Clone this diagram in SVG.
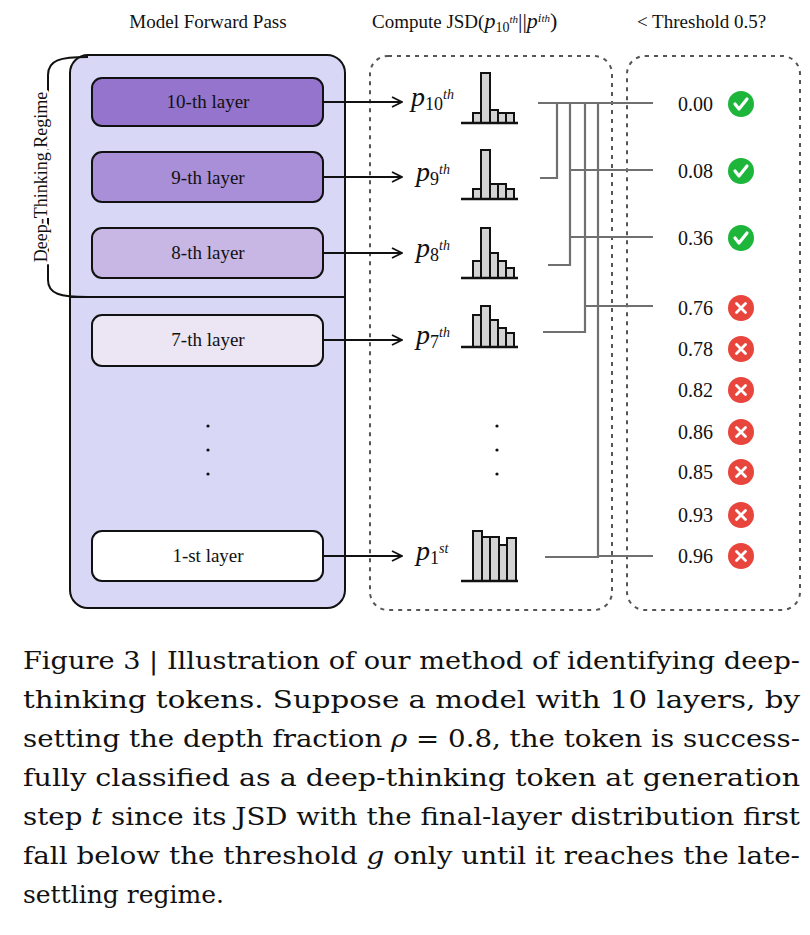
<svg xmlns="http://www.w3.org/2000/svg" width="810" height="935" viewBox="0 0 810 935">
<style>
text{font-family:"Liberation Serif",serif;fill:#111}
.h{font-size:19px}
.lay{font-size:19px;text-anchor:middle}
.p{font-size:28px;font-style:italic}
.s{font-size:14px;font-style:italic}
.sn{font-size:18px;font-style:normal}
.v{font-size:20px}
.cap{font-size:25px;font-family:"DejaVu Serif",serif}
.layer{stroke:#111;stroke-width:2}
.bar{fill:#d3d3d3;stroke:#111;stroke-width:2}
.base{stroke:#111;stroke-width:2.5}
.con{stroke:#707070;stroke-width:2.2;fill:none}
.dash{fill:none;stroke:#555;stroke-width:2;stroke-dasharray:4 5}
.arr{stroke:#111;stroke-width:2;fill:none;marker-end:url(#ah)}
</style>
<defs>
<marker id="ah" markerWidth="12" markerHeight="12" refX="11" refY="6" orient="auto" markerUnits="userSpaceOnUse"><path d="M1,1 L11,6 L1,11" fill="none" stroke="#111" stroke-width="1.8"/></marker>
<g id="ok"><circle r="13" fill="#1db53a"/><path d="M-6,0 L-2,5 L6,-5" fill="none" stroke="#fff" stroke-width="3.2" stroke-linecap="round" stroke-linejoin="round"/></g>
<g id="no"><circle r="13" fill="#e8453c"/><path d="M-4.5,-4.5 L4.5,4.5 M4.5,-4.5 L-4.5,4.5" stroke="#fff" stroke-width="2.8" stroke-linecap="round"/></g>
</defs>
<rect width="810" height="935" fill="#fff"/>
<text class="h" x="208" y="28" text-anchor="middle">Model Forward Pass</text>
<text class="h" x="372" y="28">Compute JSD(<tspan font-style="italic" font-size="22">p</tspan><tspan font-size="14" dy="4">10</tspan><tspan font-size="11" dy="-9" font-style="italic">th</tspan><tspan dy="5" font-size="22">||</tspan><tspan font-style="italic" font-size="22">p</tspan><tspan font-size="13" font-style="italic" dy="-6">i</tspan><tspan font-size="11" font-style="italic">th</tspan><tspan dy="6" font-size="22">)</tspan></text>
<text class="h" x="637" y="28">&lt; Threshold 0.5?</text>
<g id="model">
<rect x="70" y="55" width="275" height="553" rx="18" fill="#d8d8f6" stroke="#111" stroke-width="2"/>
<line x1="70" y1="297" x2="345" y2="297" stroke="#111" stroke-width="2"/>
<path d="M88,57 C60,57 48,60 48,75 L48,280 C48,294 60,297 88,297" fill="none" stroke="#111" stroke-width="2"/>
<text x="0" y="0" font-size="18" text-anchor="middle" transform="translate(47,177) rotate(-90)" stroke="#fff" stroke-width="5" paint-order="stroke">Deep-Thinking Regime</text>
</g>
<g id="l10"><rect class="layer" x="92" y="78" width="231" height="48" rx="10" fill="#9474cc"/><text class="lay" x="208" y="108">10-th layer</text></g>
<g id="l9"><rect class="layer" x="92" y="152" width="231" height="50" rx="10" fill="#a98ed8"/><text class="lay" x="208" y="184">9-th layer</text></g>
<g id="l8"><rect class="layer" x="92" y="228" width="231" height="50" rx="10" fill="#c8b7e5"/><text class="lay" x="208" y="259">8-th layer</text></g>
<g id="l7"><rect class="layer" x="92" y="315" width="231" height="51" rx="10" fill="#ebe5f4"/><text class="lay" x="208" y="346">7-th layer</text></g>
<g id="l1"><rect class="layer" x="92" y="531" width="231" height="50" rx="10" fill="#fff"/><text class="lay" x="208" y="562">1-st layer</text></g>
<g fill="#111"><circle cx="208" cy="426" r="1.6"/><circle cx="208" cy="450" r="1.6"/><circle cx="208" cy="474" r="1.6"/><circle cx="497" cy="426" r="1.6"/><circle cx="497" cy="450" r="1.6"/><circle cx="497" cy="474" r="1.6"/></g>
<rect class="dash" x="370" y="56" width="242" height="554" rx="18"/>
<rect class="dash" x="627" y="56" width="173" height="554" rx="18"/>
<g id="connectors">
<line class="arr" x1="323" y1="102" x2="402" y2="102"/>
<line class="arr" x1="323" y1="177" x2="402" y2="177"/>
<line class="arr" x1="323" y1="253" x2="402" y2="253"/>
<line class="arr" x1="323" y1="340" x2="402" y2="340"/>
<line class="arr" x1="323" y1="556" x2="402" y2="556"/>
<path class="con" d="M538,103 H653 M540,178 H557 V103 M548,265 H570 V103 M543,332 H585 V103 M545,557 H598 V103 M570,170 H653 M570,237 H653 M585,306 H653 M598,556 H653"/>
</g>
<g id="dists">
<text class="p" x="411" y="106">p<tspan class="sn" dy="4">10</tspan><tspan class="s" dy="-11">th</tspan></text>
<text class="p" x="416" y="181">p<tspan class="sn" dy="4">9</tspan><tspan class="s" dy="-11">th</tspan></text>
<text class="p" x="416" y="257">p<tspan class="sn" dy="4">8</tspan><tspan class="s" dy="-11">th</tspan></text>
<text class="p" x="416" y="344">p<tspan class="sn" dy="4">7</tspan><tspan class="s" dy="-11">th</tspan></text>
<text class="p" x="416" y="560">p<tspan class="sn" dy="4">1</tspan><tspan class="s" dy="-11">st</tspan></text>
<g class="bar">
<rect x="473" y="113" width="8" height="10"/><rect x="481" y="73" width="9" height="50"/><rect x="490" y="110" width="8" height="13"/><rect x="498" y="113" width="8" height="10"/><rect x="506" y="113" width="8" height="10"/>
<rect x="473" y="189" width="8" height="10"/><rect x="481" y="150" width="9" height="49"/><rect x="490" y="184" width="8" height="15"/><rect x="498" y="184" width="8" height="15"/><rect x="506" y="189" width="8" height="10"/>
<rect x="473" y="261" width="8" height="17"/><rect x="481" y="228" width="9" height="50"/><rect x="490" y="253" width="8" height="25"/><rect x="498" y="261" width="8" height="17"/><rect x="506" y="268" width="8" height="10"/>
<rect x="473" y="315" width="8" height="32"/><rect x="481" y="306" width="9" height="41"/><rect x="490" y="320" width="8" height="27"/><rect x="498" y="328" width="8" height="19"/><rect x="506" y="333" width="8" height="14"/>
<rect x="473" y="531" width="9" height="50"/><rect x="482" y="537" width="8" height="44"/><rect x="490" y="537" width="9" height="44"/><rect x="499" y="545" width="8" height="36"/><rect x="507" y="538" width="9" height="43"/>
</g>
<g class="base"><line x1="461" y1="123" x2="518" y2="123"/><line x1="461" y1="199" x2="518" y2="199"/><line x1="461" y1="278" x2="518" y2="278"/><line x1="461" y1="347" x2="518" y2="347"/><line x1="461" y1="581" x2="518" y2="581"/></g>
</g>
<g id="scores">
<text class="v" x="678" y="111">0.00</text><use href="#ok" x="741" y="104"/>
<text class="v" x="678" y="178">0.08</text><use href="#ok" x="741" y="171"/>
<text class="v" x="678" y="245">0.36</text><use href="#ok" x="741" y="238"/>
<text class="v" x="678" y="315">0.76</text><use href="#no" x="741" y="308"/>
<text class="v" x="678" y="356">0.78</text><use href="#no" x="741" y="349"/>
<text class="v" x="678" y="397">0.82</text><use href="#no" x="741" y="390"/>
<text class="v" x="678" y="439">0.86</text><use href="#no" x="741" y="432"/>
<text class="v" x="678" y="479">0.85</text><use href="#no" x="741" y="472"/>
<text class="v" x="678" y="522">0.93</text><use href="#no" x="741" y="515"/>
<text class="v" x="678" y="563">0.96</text><use href="#no" x="741" y="556"/>
</g>
<g id="caption">
<text class="cap" x="23" y="669" textLength="777" lengthAdjust="spacingAndGlyphs">Figure 3 | Illustration of our method of identifying deep-</text>
<text class="cap" x="23" y="708" textLength="777" lengthAdjust="spacingAndGlyphs">thinking tokens. Suppose a model with 10 layers, by</text>
<text class="cap" x="23" y="747" textLength="777" lengthAdjust="spacingAndGlyphs">setting the depth fraction <tspan font-style="italic">ρ</tspan> = 0.8, the token is success-</text>
<text class="cap" x="23" y="786" textLength="777" lengthAdjust="spacingAndGlyphs">fully classified as a deep-thinking token at generation</text>
<text class="cap" x="23" y="825" textLength="777" lengthAdjust="spacingAndGlyphs">step <tspan font-style="italic">t</tspan> since its JSD with the final-layer distribution first</text>
<text class="cap" x="23" y="864" textLength="777" lengthAdjust="spacingAndGlyphs">fall below the threshold <tspan font-style="italic">g</tspan> only until it reaches the late-</text>
<text class="cap" x="23" y="903">settling regime.</text>
</g>
</svg>
